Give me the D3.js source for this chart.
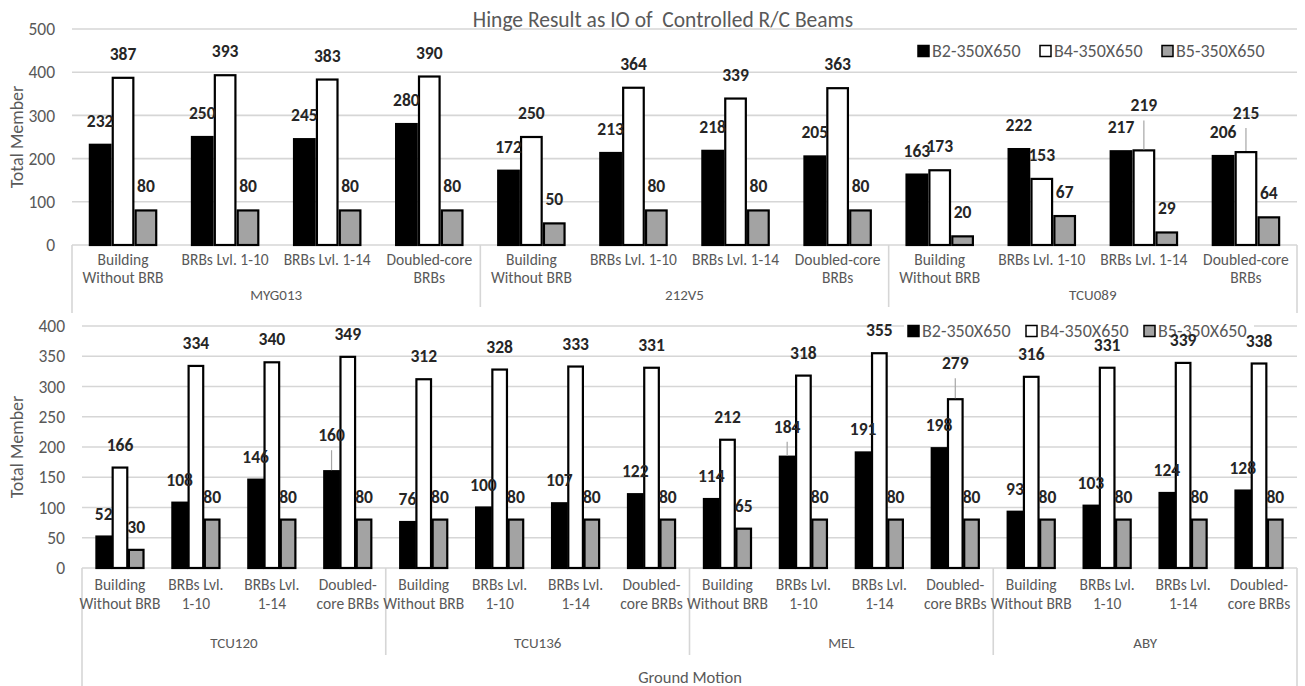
<!DOCTYPE html>
<html><head><meta charset="utf-8">
<script src="https://cdn.jsdelivr.net/npm/d3@7"></script>
<style>
body{margin:0;background:#fff}
svg{display:block}
text{font-family: Carlito, Lato, "Open Sans", sans-serif}
</style>
</head><body>
<svg id="c" width="1305" height="686"></svg>
<script>
// ---------- data ----------
const series = ["B2-350X650", "B4-350X650", "B5-350X650"];
const topMotions = ["MYG013", "212V5", "TCU089"];
const bottomMotions = ["TCU120", "TCU136", "MEL", "ABY"];
const topCatLines = [["Building", "Without BRB"], ["BRBs Lvl. 1-10"], ["BRBs Lvl. 1-14"], ["Doubled-core", "BRBs"]];
const botCatLines = [["Building", "Without BRB"], ["BRBs Lvl.", "1-10"], ["BRBs Lvl.", "1-14"], ["Doubled-", "core BRBs"]];
const topB2 = [232, 250, 245, 280, 172, 213, 218, 205, 163, 222, 217, 206];
const topB4 = [387, 393, 383, 390, 250, 364, 339, 363, 173, 153, 219, 215];
const topB5 = [80, 80, 80, 80, 50, 80, 80, 80, 20, 67, 29, 64];
const botB2 = [52, 108, 146, 160, 76, 100, 107, 122, 114, 184, 191, 198, 93, 103, 124, 128];
const botB4 = [166, 334, 340, 349, 312, 328, 333, 331, 212, 318, 355, 279, 316, 331, 339, 338];
const botB5 = [30, 80, 80, 80, 80, 80, 80, 80, 65, 80, 80, 80, 80, 80, 80, 80];
const topTicks = [0, 100, 200, 300, 400, 500];
const botTicks = [0, 50, 100, 150, 200, 250, 300, 350, 400];
const titleText = "Hinge Result as IO of  Controlled R/C Beams";
const yTitle = "Total Member";
const xTitle = "Ground Motion";

// ---------- styles ----------
const fills = ["#000000", "#ffffff", "#a3a3a3"];
const gridColor = "#d6d6d6";
const axisText = "#595959";
const labelColor = "#262626";

const svg = d3.select("#c");

function drawChart(cfg) {
  const motions = cfg.motions, catLines = cfg.catLines;
  const cats = [];
  motions.forEach((m, gi) => catLines.forEach((cl, ci) => cats.push({id: m + "|" + ci, m, gi, ci, lines: cl})));
  const vals = cfg.values;
  const x0 = d3.scaleBand().domain(cats.map(d => d.id)).range([cfg.left, cfg.right]);
  const bw = x0.bandwidth();
  const gw = bw * cfg.groupFrac;
  const x1 = d3.scaleBand().domain(series).range([(bw - gw) / 2, (bw + gw) / 2]).paddingInner(cfg.pad);
  const y = d3.scaleLinear().domain([0, cfg.max]).range([cfg.bottom, cfg.top]);
  const g = svg.append("g");

  // gridlines
  g.selectAll(".grid").data(cfg.ticks.filter(t => t > 0)).join("line")
    .attr("x1", cfg.left).attr("x2", cfg.right)
    .attr("y1", d => y(d)).attr("y2", d => y(d))
    .attr("stroke", gridColor).attr("stroke-width", 1.6);

  // y axis labels
  const ya = d3.axisLeft(y).tickValues(cfg.ticks).tickSize(0).tickPadding(cfg.tickPad);
  const yg = g.append("g").attr("transform", `translate(${cfg.left},0)`).call(ya);
  yg.select(".domain").remove();
  yg.selectAll("text").attr("fill", axisText).style("font-size", "17.5px").style("font-family", "Carlito, Lato, sans-serif");

  // y title
  g.append("text").attr("transform", `translate(17,${(cfg.top + cfg.bottom) / 2}) rotate(-90)`)
    .attr("text-anchor", "middle").attr("dominant-baseline", "central")
    .attr("fill", axisText).style("font-size", "18px").text(yTitle);

  // x axis line and separators
  g.append("line").attr("x1", cfg.left).attr("x2", cfg.right).attr("y1", cfg.bottom).attr("y2", cfg.bottom)
    .attr("stroke", gridColor).attr("stroke-width", 1.6);
  const seps = d3.range(motions.length + 1).map(i => i === motions.length ? cfg.right : x0(cats[i * catLines.length].id));
  g.selectAll(".sep").data(seps).join("line")
    .attr("x1", d => d).attr("x2", d => d).attr("y1", cfg.bottom)
    .attr("y2", (d, i) => (i === 0 || i === seps.length - 1) ? cfg.outerSep : cfg.innerSep)
    .attr("stroke", gridColor).attr("stroke-width", 1.6);

  // category labels
  cats.forEach(c => {
    const cx = x0(c.id) + bw / 2;
    c.lines.forEach((ln, li) => {
      g.append("text").attr("x", cx).attr("y", cfg.catY[li]).attr("text-anchor", "middle")
        .attr("dominant-baseline", "central").attr("fill", axisText).style("font-size", "15.5px").text(ln);
    });
  });
  // group labels
  motions.forEach((m, gi) => {
    const cx = (seps[gi] + seps[gi + 1]) / 2;
    g.append("text").attr("x", cx).attr("y", cfg.groupY).attr("text-anchor", "middle")
      .attr("dominant-baseline", "central").attr("fill", axisText).style("font-size", "15px").text(m);
  });

  // legend
  const lg = g.append("g");
  lg.append("rect").attr("x", cfg.legX - 4).attr("y", cfg.legY - 10).attr("width", cfg.legStep * 3 - 4).attr("height", 20).attr("fill", "#fff");
  series.forEach((s, i) => {
    const lx = cfg.legX + i * cfg.legStep;
    lg.append("rect").attr("x", lx).attr("y", cfg.legY - 5.5).attr("width", 11).attr("height", 11)
      .attr("fill", fills[i]).attr("stroke", "#000").attr("stroke-width", 1.5);
    lg.append("text").attr("x", lx + 14).attr("y", cfg.legY).attr("dominant-baseline", "central")
      .attr("fill", axisText).style("font-size", "18px").text(s);
  });

  // bars
  series.forEach((s, si) => {
    const sv = vals[si];
    g.selectAll(".bar" + si).data(cats).join("rect")
      .attr("x", d => x0(d.id) + x1(s))
      .attr("width", x1.bandwidth())
      .attr("y", (d, i) => y(sv[i]))
      .attr("height", (d, i) => cfg.bottom - y(sv[i]))
      .attr("fill", fills[si]).attr("stroke", "#000").attr("stroke-width", 2.2);
  });

  // data labels
  series.forEach((s, si) => {
    const sv = vals[si];
    cats.forEach((d, i) => {
      const cx = x0(d.id) + x1(s) + x1.bandwidth() / 2;
      const key = si + ":" + i;
      const lift = cfg.lifts[key] || cfg.lift;
      const ly = y(sv[i]) - lift;
      if (cfg.lifts[key]) {
        g.append("line").attr("x1", cx).attr("x2", cx).attr("y1", ly + 15).attr("y2", y(sv[i]) - 1)
          .attr("stroke", "#a6a6a6").attr("stroke-width", 1.2);
      }
      g.append("text").attr("x", cx).attr("y", ly).attr("text-anchor", "middle")
        .attr("dominant-baseline", "central").attr("fill", labelColor)
        .style("font-size", "17.5px").style("font-weight", "bold").text(sv[i]);
    });
  });
}

drawChart({
  motions: topMotions, catLines: topCatLines, values: [topB2, topB4, topB5],
  left: 72, right: 1297, top: 29, bottom: 245, max: 500, ticks: topTicks, tickPad: 17,
  groupFrac: 0.65, pad: 0.1, catY: [259, 277], groupY: 295, innerSep: 307, outerSep: 313,
  legX: 918, legY: 51, legStep: 122, lift: 24,
  lifts: {"1:10": 45, "1:11": 39}
});
drawChart({
  motions: bottomMotions, catLines: botCatLines, values: [botB2, botB4, botB5],
  left: 82, right: 1297, top: 326, bottom: 568, max: 400, ticks: botTicks, tickPad: 17,
  groupFrac: 0.62, pad: 0.1, catY: [584, 603], groupY: 643, innerSep: 655, outerSep: 686,
  legX: 908, legY: 331, legStep: 118, lift: 23,
  lifts: {"0:3": 36, "0:9": 30, "1:11": 36}
});

// titles
svg.append("text").attr("x", 663).attr("y", 20).attr("text-anchor", "middle").attr("dominant-baseline", "central")
  .attr("fill", axisText).style("font-size", "21.5px").style("white-space", "pre").text(titleText);
svg.append("text").attr("x", 690).attr("y", 677).attr("text-anchor", "middle").attr("dominant-baseline", "central")
  .attr("fill", axisText).style("font-size", "16.5px").text(xTitle);
</script>
</body></html>
